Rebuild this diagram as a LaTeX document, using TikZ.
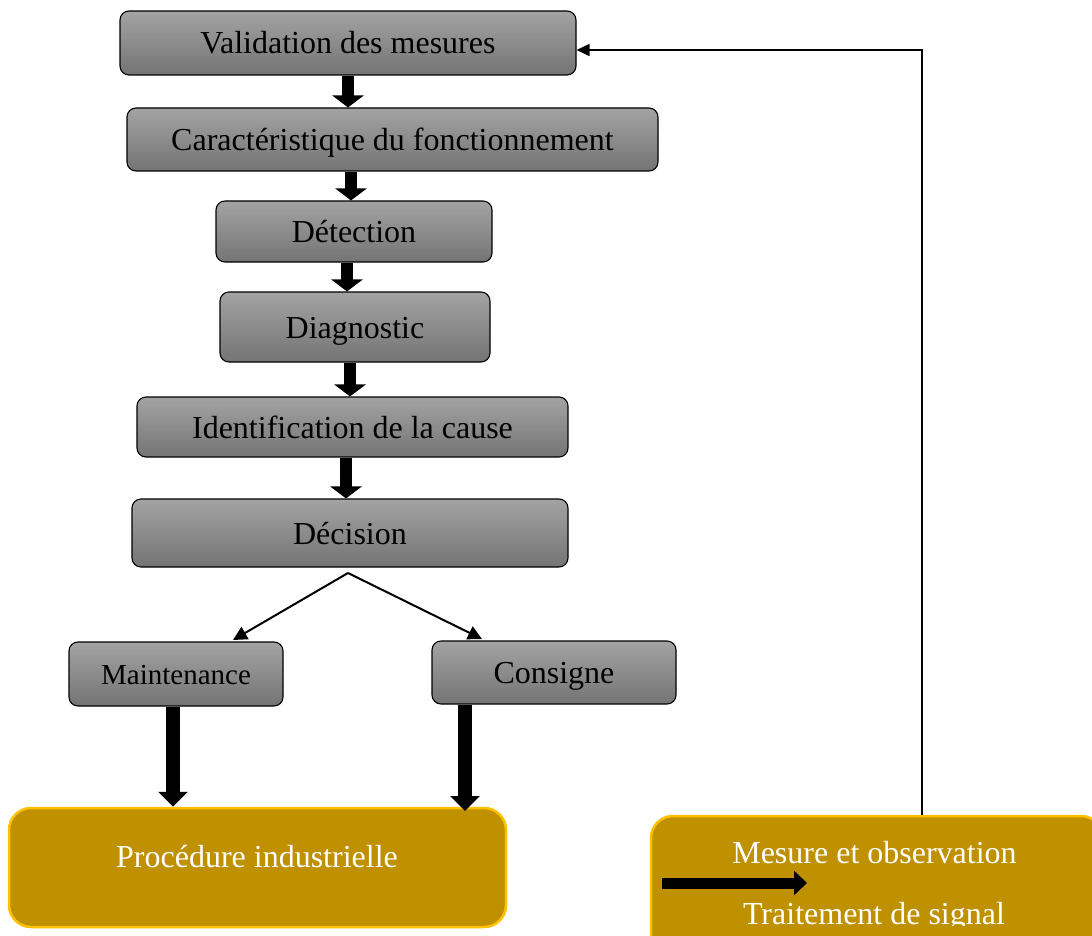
\documentclass[tikz,border=0pt]{standalone}
\usepackage{fontspec}
\setmainfont{Liberation Serif}
\usetikzlibrary{arrows.meta,calc}
\definecolor{boxtop}{RGB}{163,163,163}
\definecolor{boxbot}{RGB}{116,116,116}
\definecolor{goldfill}{RGB}{191,144,0}
\definecolor{goldline}{RGB}{255,192,0}
\tikzset{
  stage/.style={draw=black, line width=1.1pt, rounded corners=9pt,
    top color=boxtop, bottom color=boxbot, inner sep=0pt,
    text height=26pt, text depth=4pt,
    font=\fontsize{32}{38}\selectfont},
  goldbox/.style={draw=goldline, line width=2.5pt, rounded corners=22pt,
    fill=goldfill, inner sep=0pt},
  whitetxt/.style={text=white, font=\fontsize{32}{38}\selectfont, inner sep=0pt, anchor=base},
  bigarrow/.style={line width=12pt, -{Triangle[width=31pt,length=12pt]}},
  fatarrow/.style={line width=14pt, -{Triangle[width=29pt,length=15pt]}},
  thinarrow/.style={line width=2pt, -{Triangle[width=14pt,length=14pt]}}
}
\begin{document}
\begin{tikzpicture}[x=1pt,y=-1pt]
\useasboundingbox (0,0) rectangle (1092,936);
\clip (0,0) rectangle (1092,936);

% processing chain
\node[stage, minimum width=456pt, minimum height=64pt] (val) at (348,43) {Validation des mesures};
\node[stage, minimum width=531pt, minimum height=63pt] (car) at (392.5,139.5) {Caractéristique du fonctionnement};
\node[stage, minimum width=276pt, minimum height=61pt] (det) at (354,231.5) {Détection};
\node[stage, minimum width=270pt, minimum height=70pt] (diag) at (355,327) {Diagnostic};
\node[stage, minimum width=431pt, minimum height=60pt] (ident) at (352.5,427) {Identification de la cause};
\node[stage, minimum width=436pt, minimum height=68pt] (dec) at (350,533) {Décision};
\node[stage, minimum width=214pt, minimum height=64pt, font=\fontsize{29}{34}\selectfont, text height=24pt] (maint) at (176,674) {Maintenance};
\node[stage, minimum width=244pt, minimum height=63pt] (cons) at (554,672.5) {Consigne};

% industrial process and measurement blocks
\node[goldbox, minimum width=497pt, minimum height=119pt] (proc) at (257.5,867.5) {};
\node[whitetxt] (proctxt) at (257,867) {Procédure industrielle};
\node[goldbox, minimum width=452pt, minimum height=140pt] (mes) at (877,886) {};
\node[whitetxt] (mestxt) at (874.5,863) {Mesure et observation};
\begin{scope}
  \clip (640,800) rectangle (1092,925);
  \node[whitetxt] (traittxt) at (874,924) {Traitement de signal};
\end{scope}
\coordinate (inA) at (662,883);
\coordinate (inB) at (807,883);
\draw[line width=11pt, -{Triangle[width=24pt,length=13pt]}] (inA) -- (inB);

% thick arrows between stages
\draw[bigarrow] (348,0 |- val.south) -- (348,0 |- car.north);
\draw[bigarrow] (351,0 |- car.south) -- (351,0 |- det.north);
\draw[bigarrow] (347,0 |- det.south) -- (347,0 |- diag.north);
\draw[bigarrow] (350,0 |- diag.south) -- (350,0 |- ident.north);
\draw[bigarrow] (346,0 |- ident.south) -- (346,0 |- dec.north);

% split after the decision
\coordinate (split) at (348,573);
\draw[thinarrow] (split) -- (233,640);
\draw[thinarrow] (split) -- (482,639);

% actions towards the process
\draw[fatarrow] (173,0 |- maint.south) -- (173,0 |- proc.north);
\draw[fatarrow] (465,0 |- cons.south) -- (465,811);

% feedback from the measurements
\coordinate (fbtop) at (922,50);
\draw[line width=1.8pt, -{Triangle[width=12pt,length=13pt]}] (922,0 |- mes.north) -- (fbtop) -- (val.east |- fbtop);
\end{tikzpicture}
\end{document}
